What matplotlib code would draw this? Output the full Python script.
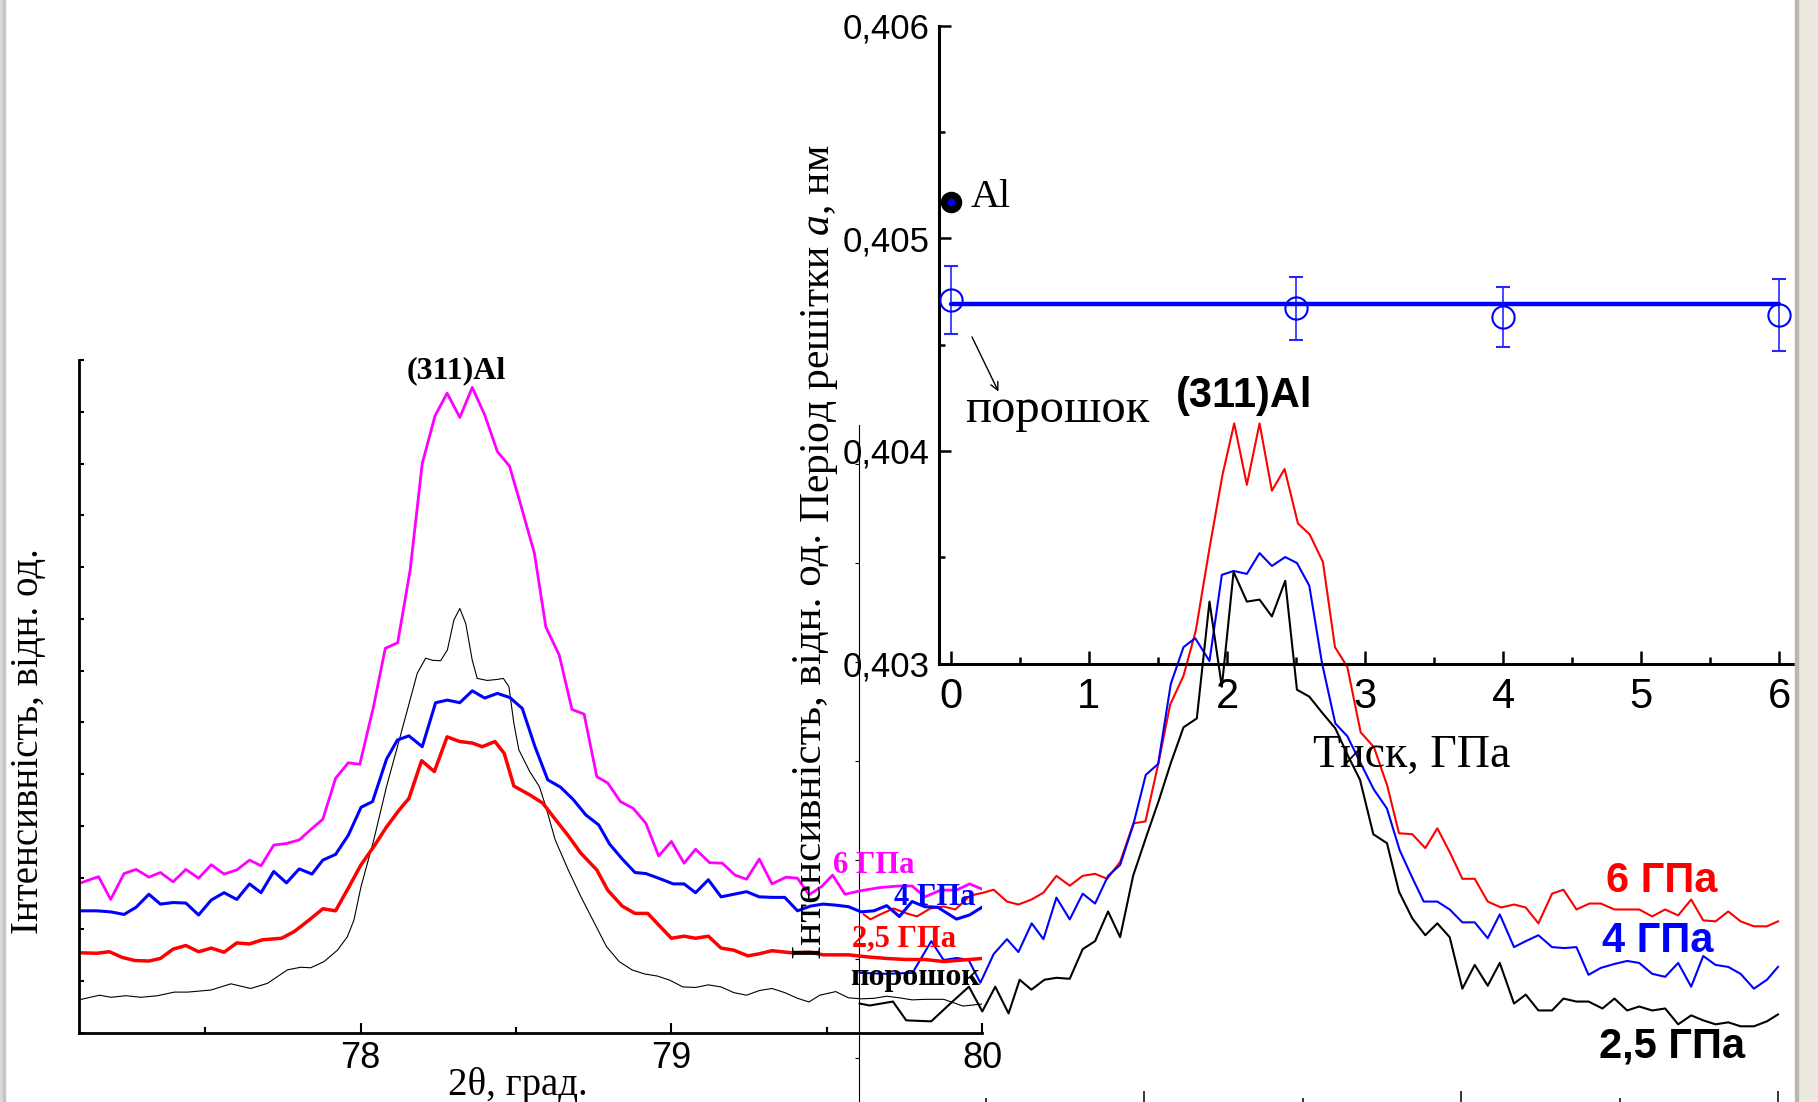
import numpy as np
import matplotlib
matplotlib.use('Agg')
import matplotlib.pyplot as plt
from matplotlib.patches import Rectangle

plt.rcParams['font.family'] = ['Liberation Sans', 'DejaVu Sans']
plt.rcParams['mathtext.fontset'] = 'custom'
plt.rcParams['mathtext.rm'] = 'Liberation Serif'
plt.rcParams['mathtext.it'] = 'Liberation Serif:italic'

# ---- left panel: (311)Al profiles, 2theta (deg) / intensity (arb. units)
left_6gpa = np.array([
    (77.094, 2.89), (77.156, 3.02), (77.195, 2.58), (77.238, 3.08), (77.277, 3.16), (77.318, 3.01),
    (77.355, 3.10), (77.396, 2.92), (77.437, 3.16), (77.478, 2.99), (77.519, 3.25), (77.560, 3.07),
    (77.601, 3.15), (77.642, 3.34), (77.679, 3.23), (77.720, 3.63), (77.761, 3.66), (77.802, 3.73),
    (77.843, 3.95), (77.878, 4.13), (77.919, 4.92), (77.960, 5.22), (77.997, 5.19), (78.041, 6.30),
    (78.079, 7.43), (78.119, 7.54), (78.159, 8.94), (78.198, 11.00), (78.239, 11.92), (78.278, 12.36),
    (78.319, 11.89), (78.359, 12.47), (78.399, 11.94), (78.440, 11.23), (78.479, 10.95), (78.518, 10.14),
    (78.559, 9.27), (78.596, 7.84), (78.639, 7.30), (78.680, 6.25), (78.719, 6.16), (78.760, 4.95),
    (78.795, 4.83), (78.836, 4.47), (78.877, 4.34), (78.918, 4.05), (78.959, 3.42), (79.000, 3.70),
    (79.041, 3.28), (79.078, 3.55), (79.123, 3.29), (79.164, 3.28), (79.205, 3.05), (79.242, 2.97),
    (79.283, 3.36), (79.324, 2.88), (79.369, 3.01), (79.406, 2.99), (79.443, 2.67), (79.484, 2.83),
    (79.519, 3.05), (79.559, 2.68), (79.611, 2.75), (79.672, 2.81), (79.734, 2.84), (79.775, 2.84),
    (79.816, 2.63), (79.867, 2.76), (79.918, 2.76), (79.960, 2.88), (80.000, 2.78)])

left_4gpa = np.array([
    (77.094, 2.36), (77.150, 2.36), (77.195, 2.34), (77.238, 2.29), (77.277, 2.43), (77.318, 2.68),
    (77.355, 2.49), (77.396, 2.52), (77.437, 2.51), (77.478, 2.28), (77.519, 2.57), (77.560, 2.71),
    (77.601, 2.58), (77.642, 2.88), (77.679, 2.71), (77.720, 3.12), (77.761, 2.90), (77.802, 3.17),
    (77.843, 3.07), (77.878, 3.34), (77.919, 3.45), (77.960, 3.82), (78.001, 4.36), (78.038, 4.47),
    (78.083, 5.29), (78.118, 5.66), (78.155, 5.74), (78.198, 5.53), (78.241, 6.38), (78.279, 6.43),
    (78.319, 6.38), (78.359, 6.61), (78.399, 6.47), (78.440, 6.56), (78.480, 6.48), (78.520, 6.27),
    (78.561, 5.53), (78.602, 4.89), (78.643, 4.75), (78.684, 4.51), (78.725, 4.21), (78.766, 4.02),
    (78.801, 3.65), (78.842, 3.36), (78.883, 3.10), (78.918, 3.08), (78.959, 2.99), (79.006, 2.88),
    (79.041, 2.88), (79.078, 2.71), (79.119, 2.96), (79.160, 2.63), (79.201, 2.68), (79.242, 2.73),
    (79.283, 2.63), (79.324, 2.62), (79.365, 2.62), (79.406, 2.36), (79.447, 2.45), (79.488, 2.49),
    (79.529, 2.47), (79.570, 2.44), (79.611, 2.34), (79.652, 2.36), (79.693, 2.46), (79.734, 2.25),
    (79.775, 2.54), (79.816, 2.44), (79.857, 2.43), (79.918, 2.20), (79.960, 2.28), (80.000, 2.43)])

left_25gpa = np.array([
    (77.094, 1.55), (77.150, 1.54), (77.191, 1.57), (77.232, 1.46), (77.273, 1.40), (77.318, 1.39),
    (77.355, 1.44), (77.396, 1.62), (77.437, 1.69), (77.478, 1.57), (77.519, 1.64), (77.560, 1.56),
    (77.601, 1.74), (77.642, 1.72), (77.683, 1.80), (77.745, 1.83), (77.786, 1.96), (77.827, 2.15),
    (77.878, 2.40), (77.919, 2.36), (77.960, 2.80), (78.001, 3.25), (78.042, 3.60), (78.083, 3.98),
    (78.124, 4.31), (78.155, 4.53), (78.196, 5.26), (78.237, 5.05), (78.278, 5.72), (78.319, 5.63),
    (78.360, 5.60), (78.391, 5.53), (78.432, 5.63), (78.462, 5.40), (78.493, 4.77), (78.544, 4.60),
    (78.586, 4.44), (78.626, 4.13), (78.668, 3.81), (78.709, 3.47), (78.760, 3.15), (78.795, 2.76),
    (78.842, 2.45), (78.883, 2.31), (78.924, 2.31), (78.965, 2.05), (79.000, 1.83), (79.041, 1.87),
    (79.078, 1.83), (79.119, 1.87), (79.160, 1.64), (79.201, 1.60), (79.246, 1.49), (79.283, 1.53),
    (79.324, 1.59), (79.385, 1.55), (79.447, 1.56), (79.488, 1.51), (79.570, 1.51), (79.631, 1.47),
    (79.693, 1.44), (79.754, 1.42), (79.816, 1.42), (79.877, 1.38), (79.939, 1.41), (80.000, 1.44)])

left_powder = np.array([
    (77.100, 0.65), (77.159, 0.73), (77.196, 0.69), (77.244, 0.72), (77.293, 0.69), (77.346, 0.72),
    (77.400, 0.79), (77.443, 0.79), (77.518, 0.83), (77.582, 0.95), (77.646, 0.86), (77.700, 0.96),
    (77.764, 1.22), (77.807, 1.27), (77.839, 1.26), (77.882, 1.38), (77.925, 1.60), (77.957, 1.86),
    (77.978, 2.18), (78.001, 2.83), (78.042, 3.73), (78.083, 4.76), (78.124, 5.66), (78.182, 6.95),
    (78.209, 7.24), (78.231, 7.20), (78.257, 7.19), (78.279, 7.40), (78.300, 7.98), (78.319, 8.20),
    (78.338, 7.91), (78.359, 7.20), (78.375, 6.85), (78.407, 6.81), (78.440, 6.83), (78.459, 6.85),
    (78.477, 6.69), (78.493, 5.98), (78.509, 5.47), (78.544, 5.05), (78.575, 4.76), (78.596, 4.37),
    (78.626, 3.73), (78.668, 3.15), (78.709, 2.63), (78.750, 2.15), (78.791, 1.67), (78.832, 1.38),
    (78.873, 1.22), (78.914, 1.14), (78.955, 1.10), (78.995, 1.02), (79.037, 0.89), (79.078, 0.88),
    (79.119, 0.93), (79.160, 0.89), (79.201, 0.78), (79.242, 0.73), (79.283, 0.82), (79.324, 0.86),
    (79.365, 0.78), (79.406, 0.67), (79.443, 0.60), (79.478, 0.73), (79.529, 0.80), (79.570, 0.68),
    (79.611, 0.66), (79.652, 0.67), (79.693, 0.71), (79.734, 0.68), (79.775, 0.64), (79.816, 0.65),
    (79.877, 0.65), (79.939, 0.52), (80.000, 0.56)])

# ---- background panel: second set of profiles
right_6gpa = np.array([
    (77.115, 1.45), (77.136, 1.40), (77.167, 1.45), (77.209, 1.51), (77.251, 1.46), (77.283, 1.43),
    (77.325, 1.51), (77.367, 1.53), (77.404, 1.50), (77.451, 1.64), (77.493, 1.67), (77.525, 1.70),
    (77.567, 1.58), (77.603, 1.55), (77.644, 1.60), (77.682, 1.67), (77.723, 1.84), (77.765, 1.74),
    (77.806, 1.84), (77.845, 1.86), (77.883, 1.81), (77.924, 1.98), (77.966, 2.37), (78.004, 2.39),
    (78.045, 2.98), (78.082, 3.57), (78.124, 3.86), (78.163, 4.32), (78.205, 5.13), (78.247, 5.89),
    (78.284, 6.41), (78.324, 5.79), (78.364, 6.41), (78.403, 5.73), (78.443, 5.95), (78.485, 5.40),
    (78.522, 5.29), (78.564, 5.01), (78.602, 4.15), (78.641, 3.95), (78.683, 3.29), (78.725, 3.14),
    (78.767, 2.75), (78.804, 2.27), (78.846, 2.26), (78.887, 2.12), (78.925, 2.32), (78.964, 2.08),
    (79.004, 1.81), (79.043, 1.81), (79.084, 1.58), (79.126, 1.52), (79.167, 1.55), (79.204, 1.52),
    (79.244, 1.36), (79.287, 1.66), (79.323, 1.70), (79.364, 1.50), (79.405, 1.56), (79.441, 1.56),
    (79.484, 1.50), (79.521, 1.50), (79.562, 1.50), (79.603, 1.43), (79.644, 1.50), (79.685, 1.44),
    (79.726, 1.60), (79.764, 1.39), (79.803, 1.38), (79.843, 1.48), (79.882, 1.38), (79.924, 1.33),
    (79.965, 1.33), (80.000, 1.38)])

right_4gpa = np.array([
    (77.102, 0.86), (77.186, 0.85), (77.269, 0.86), (77.328, 1.18), (77.367, 0.99), (77.409, 1.01),
    (77.446, 0.99), (77.483, 0.76), (77.525, 1.05), (77.567, 1.20), (77.603, 1.07), (77.645, 1.36),
    (77.682, 1.20), (77.723, 1.62), (77.765, 1.40), (77.806, 1.66), (77.845, 1.56), (77.886, 1.84),
    (77.924, 1.95), (77.965, 2.35), (78.005, 2.86), (78.044, 2.97), (78.084, 3.78), (78.124, 4.15),
    (78.161, 4.24), (78.206, 4.01), (78.245, 4.88), (78.282, 4.92), (78.324, 4.89), (78.364, 5.10),
    (78.403, 4.97), (78.445, 5.06), (78.482, 5.00), (78.521, 4.77), (78.561, 3.99), (78.603, 3.38),
    (78.641, 3.25), (78.681, 2.99), (78.725, 2.71), (78.766, 2.52), (78.806, 2.10), (78.846, 1.82),
    (78.882, 1.58), (78.925, 1.58), (78.964, 1.50), (79.004, 1.37), (79.043, 1.37), (79.084, 1.21),
    (79.122, 1.45), (79.167, 1.12), (79.204, 1.18), (79.244, 1.24), (79.287, 1.12), (79.326, 1.11),
    (79.364, 1.12), (79.402, 0.84), (79.441, 0.91), (79.484, 0.95), (79.524, 0.98), (79.562, 0.96),
    (79.603, 0.85), (79.644, 0.82), (79.685, 0.96), (79.726, 0.72), (79.764, 1.03), (79.803, 0.94),
    (79.843, 0.92), (79.882, 0.85), (79.924, 0.70), (79.965, 0.79), (80.000, 0.92)])

right_25gpa = np.array([
    (77.102, 0.55), (77.134, 0.53), (77.207, 0.57), (77.249, 0.38), (77.328, 0.37), (77.395, 0.57),
    (77.447, 0.72), (77.489, 0.47), (77.530, 0.72), (77.572, 0.45), (77.607, 0.79), (77.644, 0.69),
    (77.685, 0.79), (77.723, 0.81), (77.765, 0.80), (77.806, 1.10), (77.845, 1.18), (77.886, 1.48),
    (77.924, 1.22), (77.965, 1.84), (78.007, 2.24), (78.047, 2.61), (78.084, 2.98), (78.124, 3.34),
    (78.166, 3.43), (78.206, 4.61), (78.245, 3.75), (78.282, 4.91), (78.324, 4.61), (78.364, 4.63),
    (78.403, 4.46), (78.445, 4.82), (78.482, 3.72), (78.521, 3.65), (78.561, 3.49), (78.603, 3.33),
    (78.645, 3.04), (78.681, 2.81), (78.723, 2.26), (78.766, 2.17), (78.804, 1.68), (78.846, 1.41),
    (78.887, 1.24), (78.925, 1.36), (78.964, 1.22), (79.004, 0.70), (79.043, 0.94), (79.084, 0.73),
    (79.122, 0.96), (79.167, 0.55), (79.204, 0.64), (79.244, 0.48), (79.287, 0.48), (79.323, 0.60),
    (79.364, 0.57), (79.402, 0.57), (79.446, 0.50), (79.484, 0.60), (79.524, 0.48), (79.562, 0.52),
    (79.603, 0.48), (79.644, 0.50), (79.685, 0.34), (79.726, 0.43), (79.764, 0.38), (79.803, 0.34),
    (79.843, 0.36), (79.882, 0.32), (79.924, 0.32), (79.965, 0.37), (80.000, 0.44)])

# ---- inset: lattice period vs pressure
p_gpa = [0, 2.5, 4, 6]
a_nm = [0.40471, 0.40467, 0.40463, 0.40464]
a_err = [0.00016, 0.00015, 0.00014, 0.00017]
fit_p = [0, 6]
fit_a = [0.40469, 0.40469]
al_p = [0]
al_a = [0.40517]
inset_yticks = [0.403, 0.404, 0.405, 0.406]
inset_yticklabels = ['0,403', '0,404', '0,405', '0,406']

W, H = 1818, 1102
fig = plt.figure(figsize=(W / 100, H / 100), dpi=100)


def box(x0, y0, x1, y1):
    return [x0 / W, 1 - y1 / H, (x1 - x0) / W, (y1 - y0) / H]


def pt(x, y):
    return (x / W, 1 - y / H)


# window borders of the screenshot
fig.patches.append(Rectangle((0, 0), 3 / W, 1, transform=fig.transFigure, color='#dcd9d0', zorder=0))
fig.patches.append(Rectangle((3 / W, 0), 1.5 / W, 1, transform=fig.transFigure, color='#c4c4cc', zorder=0))
fig.patches.append(Rectangle((1795 / W, 0), 23 / W, 1, transform=fig.transFigure, color='#ece9e0', zorder=0))
fig.patches.append(Rectangle((1795 / W, 0), 3 / W, 1, transform=fig.transFigure, color='#b8b6b0', zorder=0))

# background panel
axr = fig.add_axes(box(859, 425, 1778, 1105))
axr.patch.set_alpha(0)
axr.plot(right_6gpa[:, 0], right_6gpa[:, 1], color='#ff0000', lw=1.5, clip_on=False)
axr.plot(right_4gpa[:, 0], right_4gpa[:, 1], color='#0000ff', lw=1.5, clip_on=False)
axr.plot(right_25gpa[:, 0], right_25gpa[:, 1], color='black', lw=1.5, clip_on=False)
axr.set_xlim(77.1, 80.0)
axr.set_ylim(-0.475, 6.394)
for s in ['top', 'right']:
    axr.spines[s].set_visible(False)
axr.spines['left'].set_linewidth(0.8)
axr.spines['bottom'].set_linewidth(1.2)
axr.set_xticks([78, 79, 80])
axr.set_xticks([77.5, 78.5, 79.5], minor=True)
axr.set_yticks(range(7))
axr.tick_params(axis='x', which='major', direction='in', length=10, width=1.1, labelbottom=False)
axr.tick_params(axis='x', which='minor', direction='in', length=5, width=1.1)
axr.tick_params(axis='y', direction='out', length=3, width=0.8, labelleft=False)

# left panel
axl = fig.add_axes(box(79, 360, 982, 1033))
axl.patch.set_alpha(0)
axl.plot(left_powder[:, 0], left_powder[:, 1], color='black', lw=0.8)
axl.plot(left_25gpa[:, 0], left_25gpa[:, 1], color='#ff0000', lw=2.5, solid_joinstyle='round')
axl.plot(left_4gpa[:, 0], left_4gpa[:, 1], color='#0000ff', lw=2.2)
axl.plot(left_6gpa[:, 0], left_6gpa[:, 1], color='#ff00ff', lw=2.0)
axl.set_xlim(77.093, 80.0)
axl.set_ylim(0, 13)
for s in ['top', 'right']:
    axl.spines[s].set_visible(False)
for s in ['left', 'bottom']:
    axl.spines[s].set_linewidth(2)
axl.set_xticks([78, 79, 80])
axl.set_xticklabels(['78', '79', '80'], fontsize=26)
axl.set_xticks([77.5, 78.5, 79.5], minor=True)
axl.set_yticks(range(14))
axl.tick_params(axis='x', which='major', direction='in', length=7, width=1.5, pad=6)
axl.tick_params(axis='x', which='minor', direction='in', length=4.5, width=1.5)
axl.tick_params(axis='y', direction='in', length=3.5, width=1.5, labelleft=False)

# inset
axi = fig.add_axes(box(939, 25.7, 1830, 663.5))
axi.patch.set_alpha(0)
axi.errorbar(p_gpa, a_nm, yerr=a_err, fmt='o', mfc='none', mec='#0000ff', ms=16, mew=1.5,
             ecolor='#2626ff', elinewidth=1.2, capsize=5, capthick=1.2, clip_on=False, zorder=3)
axi.plot(fit_p, fit_a, color='#0000ff', lw=3.2, solid_capstyle='round', zorder=4)
axi.plot(al_p, al_a, 'o', ms=10.5, mfc='#0000ff', mec='black', mew=5, clip_on=False, zorder=5)
axi.set_xlim(-0.0854, 6.366)
axi.set_ylim(0.403, 0.406)
for s in ['top', 'right']:
    axi.spines[s].set_visible(False)
for s in ['left', 'bottom']:
    axi.spines[s].set_linewidth(2.2)
axi.set_yticks(inset_yticks)
axi.set_yticklabels(inset_yticklabels)
axi.set_yticks([0.4035, 0.4045, 0.4055], minor=True)
axi.set_xticks(range(7))
axi.set_xticks([0.5, 1.5, 2.5, 3.5, 4.5, 5.5], minor=True)
axi.tick_params(axis='y', which='major', direction='in', length=8.5, width=1.8, labelsize=25, pad=7)
axi.tick_params(axis='y', which='minor', direction='in', length=4, width=1.8)
axi.tick_params(axis='x', which='major', direction='in', length=9.5, width=1.8, labelsize=30, pad=10)
axi.tick_params(axis='x', which='minor', direction='in', length=5, width=1.8)
axi.annotate('', xy=(0.345, 0.404279), xytext=(0.1535, 0.404536),
             arrowprops=dict(arrowstyle='->', lw=1, color='black', shrinkA=0, shrinkB=0, mutation_scale=14))

serif = ['Liberation Serif', 'DejaVu Serif']
sans = ['Liberation Sans', 'DejaVu Sans']

# axis titles
fig.text(*pt(29, 741), 'Інтенсивність, відн. од.', rotation=90, ha='center', va='center',
         fontsize=28, family=serif)
fig.text(*pt(518, 1095), '2θ, град.', ha='center', va='baseline', fontsize=28, family=serif)
fig.text(*pt(811, 746), 'Інтенсивність, відн. од.', rotation=90, ha='center', va='center',
         fontsize=31, family=serif)
fig.text(*pt(820, 334), 'Період решітки $\\mathit{a}$, нм', rotation=90, ha='center', va='center',
         fontsize=30, family=serif)
fig.text(*pt(1313, 767), 'Тиск, ГПа', ha='left', va='baseline', fontsize=33, family=serif)

# annotations, left panel
fig.text(*pt(456, 378), '(311)Al', ha='center', va='baseline', fontsize=23, family=serif, weight='bold')
fig.text(*pt(833, 873), '6 ГПа', ha='left', va='baseline', fontsize=22, family=serif, weight='bold', color='#ff00ff')
fig.text(*pt(894, 905), '4 ГПа', ha='left', va='baseline', fontsize=22, family=serif, weight='bold', color='#0000ff')
fig.text(*pt(852, 946), '2,5 ГПа', ha='left', va='baseline', fontsize=22, family=serif, weight='bold', color='#ff0000')
fig.text(*pt(850, 985), 'порошок', ha='left', va='baseline', fontsize=23, family=serif, weight='bold', color='black')

# annotations, background panel
fig.text(*pt(1606, 892), '6 ГПа', ha='left', va='baseline', fontsize=30, family=sans, weight='bold', color='#ff0000')
fig.text(*pt(1602, 952), '4 ГПа', ha='left', va='baseline', fontsize=30, family=sans, weight='bold', color='#0000ff')
fig.text(*pt(1599, 1057), '2,5 ГПа', ha='left', va='baseline', fontsize=30, family=sans, weight='bold', color='black')

# annotations, inset
fig.text(*pt(1176, 407), '(311)Al', ha='left', va='baseline', fontsize=30, family=sans, weight='bold')
fig.text(*pt(965, 422), 'порошок', ha='left', va='baseline', fontsize=35, family=serif)
fig.text(*pt(971, 207), 'Al', ha='left', va='baseline', fontsize=29, family=serif)

fig.savefig('out.png', dpi=100)
